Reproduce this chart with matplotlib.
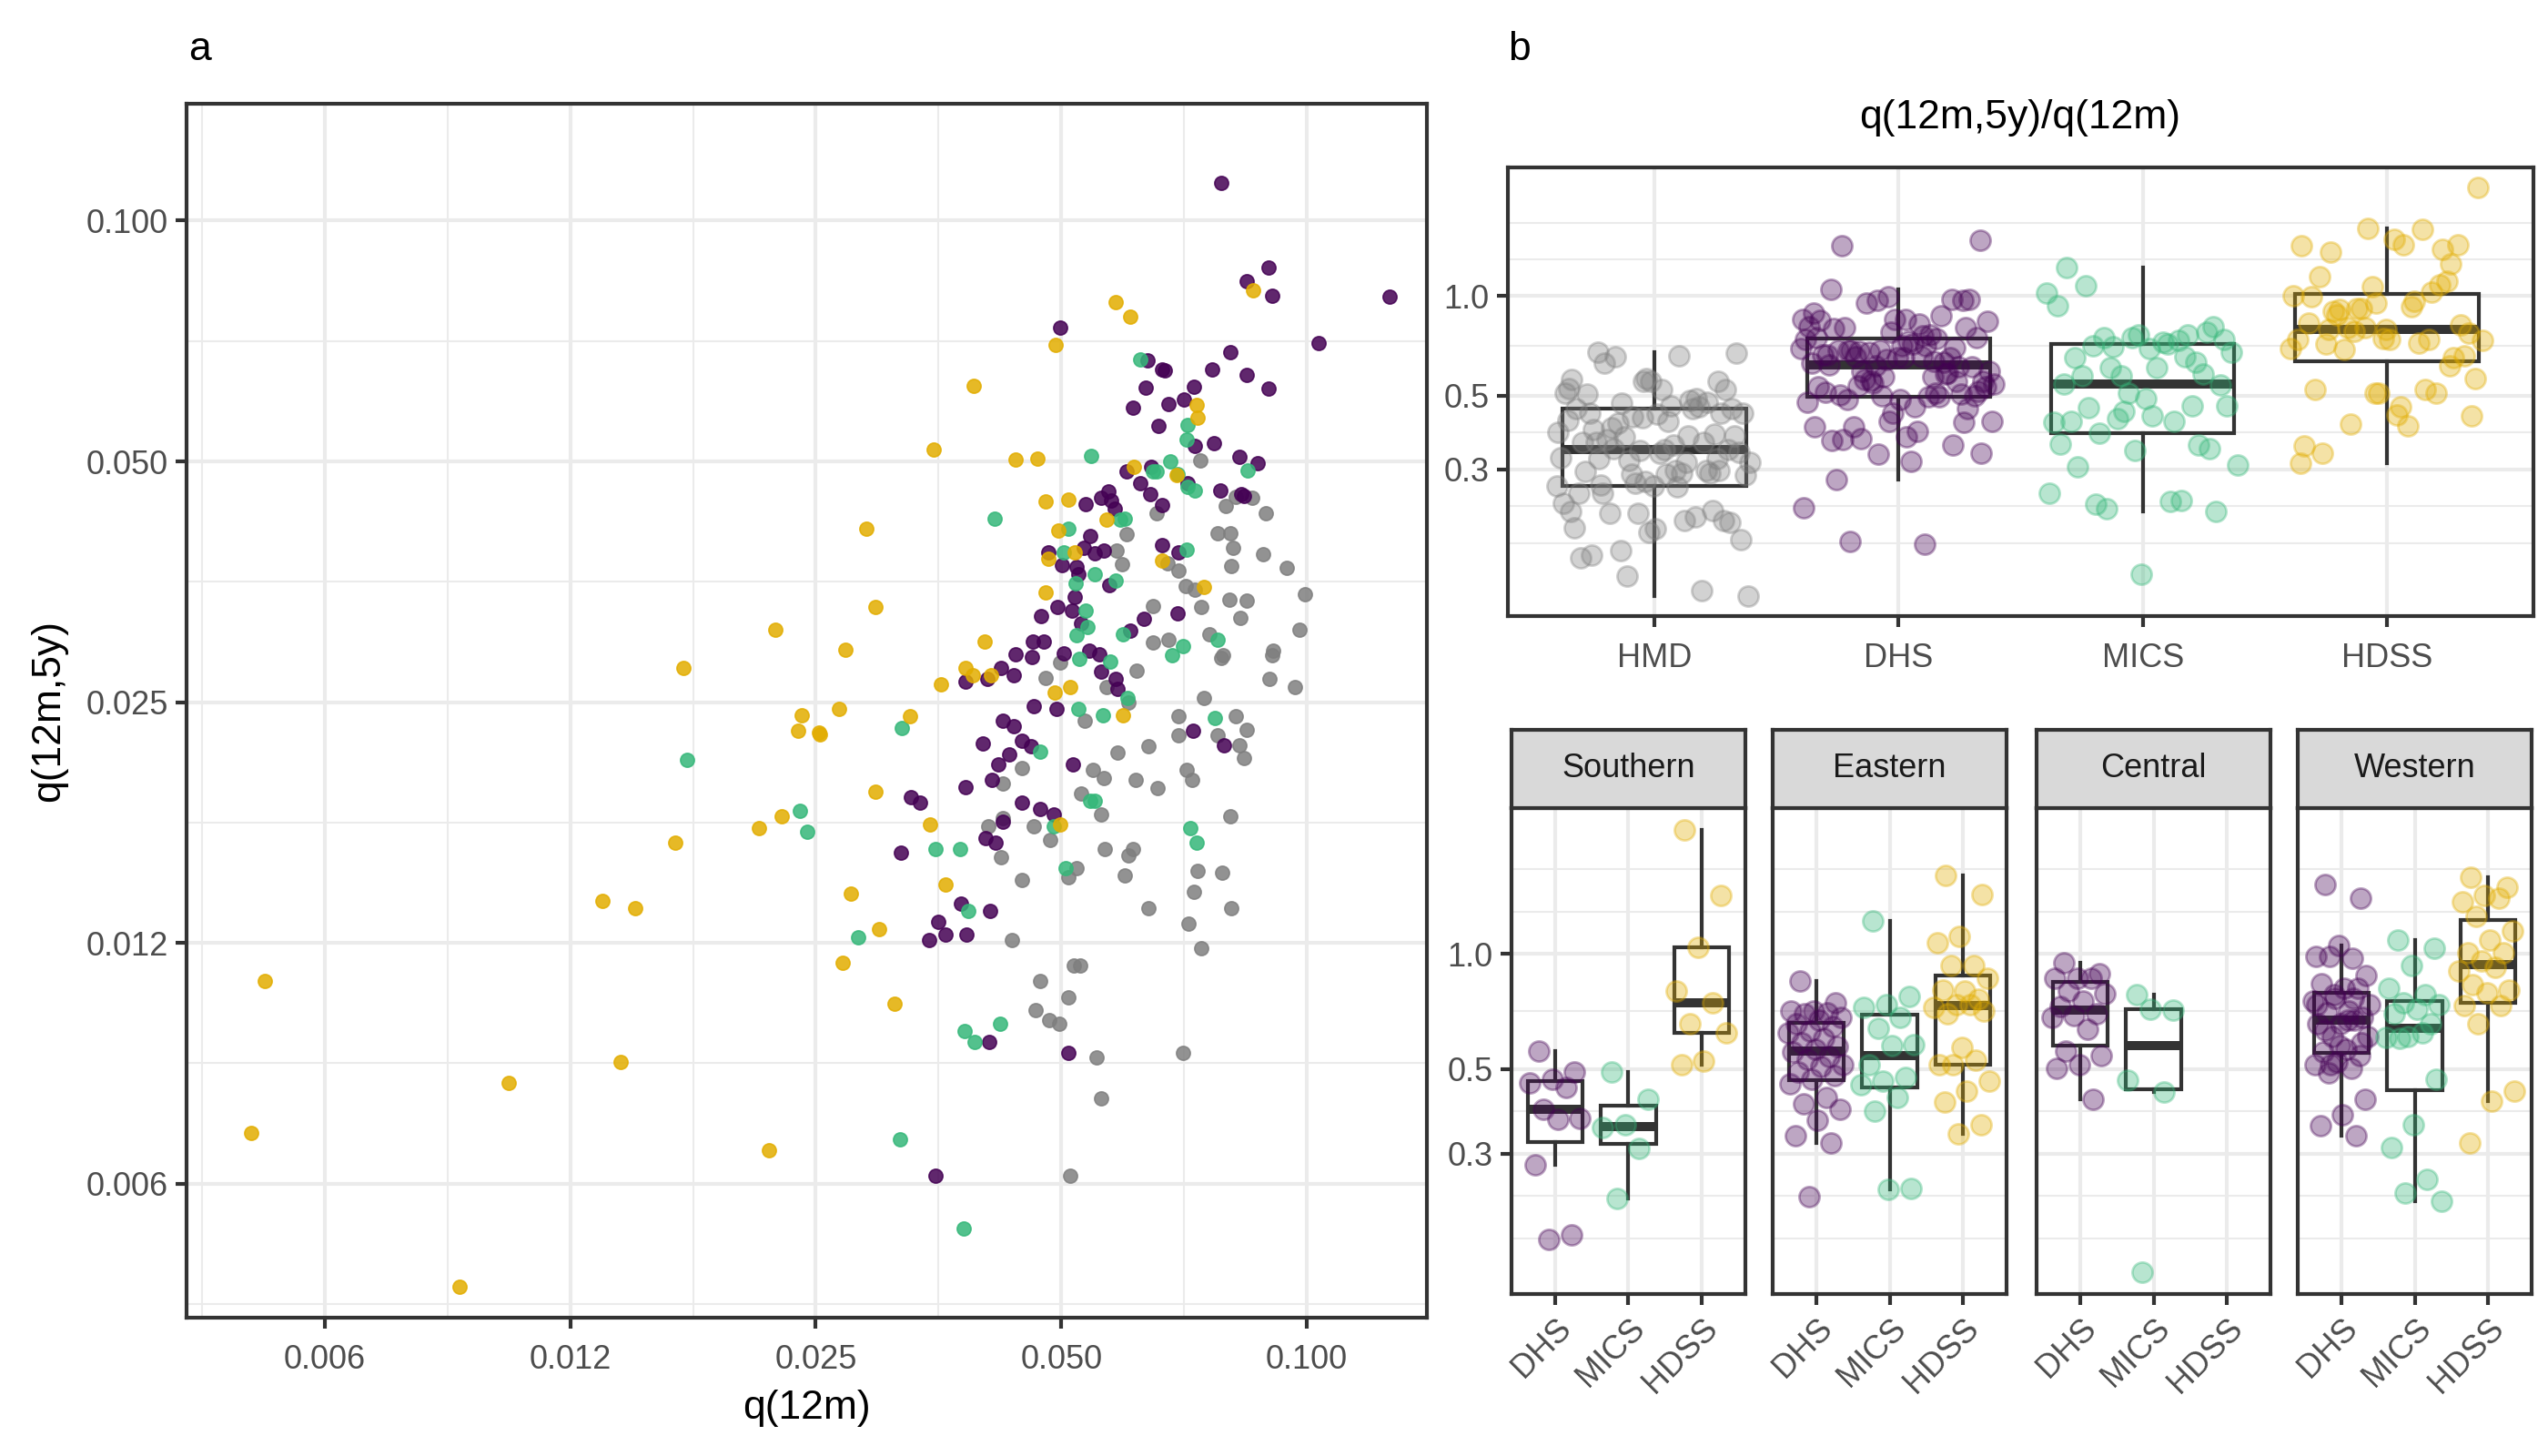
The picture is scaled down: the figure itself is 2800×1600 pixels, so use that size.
import numpy as np
import matplotlib.pyplot as plt
from matplotlib.ticker import FixedLocator, NullFormatter

plt.rcParams['font.family'] = ['Liberation Sans', 'DejaVu Sans']

# ---- panel a: q(12m) vs q(12m,5y) by source ----
hmd_q12m = [0.0741, 0.0795, 0.0818, 0.0857, 0.0891, 0.0655, 0.0602, 0.0777, 0.0805, 0.0813,
            0.0884, 0.0945, 0.0585, 0.0594, 0.0697, 0.0675, 0.0809, 0.0711, 0.0729, 0.0742,
            0.0803, 0.0844, 0.0830, 0.0995, 0.0648, 0.0979, 0.0760, 0.0648, 0.0677, 0.0785,
            0.0790, 0.0909, 0.0906, 0.0899, 0.0967, 0.0619, 0.0498, 0.0478, 0.0569, 0.0605,
            0.0748, 0.0697, 0.0534, 0.0819, 0.0845, 0.0696, 0.0778, 0.0586, 0.0640, 0.0826,
            0.0837, 0.0447, 0.0547, 0.0712,
            0.0424, 0.0529, 0.0559, 0.0407, 0.0424, 0.0463, 0.0485, 0.0422, 0.0447, 0.0510,
            0.0522, 0.0565, 0.0612, 0.0605, 0.0599, 0.0734, 0.0788, 0.0727, 0.0639, 0.0808,
            0.0717, 0.0435, 0.0742, 0.0518, 0.0528, 0.0471, 0.0510, 0.0465, 0.0483, 0.0497,
            0.0553, 0.0706, 0.0559, 0.0513, 0.0564, 0.0617, 0.0656, 0.0724, 0.0805]
hmd_q5y = [0.0502, 0.0440, 0.0452, 0.0450, 0.0431, 0.0431, 0.0406, 0.0407, 0.0407, 0.0390,
           0.0383, 0.0368, 0.0387, 0.0372, 0.0365, 0.0373, 0.0370, 0.0349, 0.0346, 0.0329,
           0.0336, 0.0335, 0.0319, 0.0341, 0.0330, 0.0308, 0.0304, 0.0297, 0.0299, 0.0284,
           0.0286, 0.0290, 0.0286, 0.0267, 0.0261, 0.0274, 0.0280, 0.0268, 0.0261, 0.0250,
           0.0253, 0.0240, 0.0237, 0.0240, 0.0231, 0.0227, 0.0227, 0.0216, 0.0220, 0.0221,
           0.0213, 0.0207, 0.0206, 0.0206,
           0.0198, 0.0192, 0.0181, 0.0175, 0.0179, 0.0175, 0.0168, 0.0160, 0.0150, 0.0151,
           0.0155, 0.0164, 0.0164, 0.0161, 0.0152, 0.0154, 0.0153, 0.0145, 0.0138, 0.0138,
           0.0132, 0.0126, 0.0123, 0.0117, 0.0117, 0.0112, 0.0107, 0.0103, 0.0100, 0.0099,
           0.0090, 0.0091, 0.0080, 0.0064, 0.0201, 0.0200, 0.0195, 0.0200, 0.0180]

dhs_q12m = [0.0785, 0.0898, 0.0844, 0.0907, 0.1265, 0.1034, 0.0498, 0.0805, 0.0638, 0.0665,
            0.0669, 0.0766, 0.0844, 0.0898, 0.0634, 0.0728, 0.0707, 0.0676, 0.0613, 0.0658,
            0.0729, 0.0770, 0.0827, 0.0870, 0.0602, 0.0645, 0.0715, 0.0625, 0.0643, 0.0664,
            0.0784, 0.0831, 0.0837, 0.0536, 0.0559, 0.0571, 0.0575, 0.0581, 0.0542, 0.0664,
            0.0697, 0.0533, 0.0482, 0.0550, 0.0564, 0.0501, 0.0522, 0.0525, 0.0572, 0.0520,
            0.0495, 0.0515, 0.0472, 0.0529, 0.0695, 0.0632, 0.0608, 0.0462, 0.0476, 0.0503,
            0.0541, 0.0556, 0.0439, 0.0460, 0.0422, 0.0437, 0.0382, 0.0406, 0.0559, 0.0583,
            0.0586, 0.0463, 0.0493, 0.0424, 0.0437, 0.0726, 0.0792, 0.0401, 0.0448, 0.0459,
            0.0432, 0.0517, 0.0419,
            0.0411, 0.0382, 0.0327, 0.0336, 0.0447, 0.0471, 0.0489, 0.0424, 0.0404, 0.0415,
            0.0318, 0.0377, 0.0409, 0.0353, 0.0344, 0.0361, 0.0383, 0.0408, 0.0510, 0.0351]
dhs_q5y = [0.1116, 0.0874, 0.0841, 0.0805, 0.0803, 0.0703, 0.0735, 0.0685, 0.0669, 0.0651,
           0.0650, 0.0652, 0.0641, 0.0616, 0.0619, 0.0620, 0.0597, 0.0590, 0.0584, 0.0554,
           0.0523, 0.0527, 0.0507, 0.0497, 0.0486, 0.0492, 0.0469, 0.0469, 0.0455, 0.0441,
           0.0460, 0.0455, 0.0453, 0.0442, 0.0450, 0.0459, 0.0447, 0.0436, 0.0403, 0.0393,
           0.0385, 0.0390, 0.0385, 0.0384, 0.0387, 0.0371, 0.0369, 0.0361, 0.0350, 0.0338,
           0.0329, 0.0325, 0.0320, 0.0314, 0.0323, 0.0318, 0.0307, 0.0298, 0.0298, 0.0288,
           0.0290, 0.0287, 0.0287, 0.0285, 0.0276, 0.0270, 0.0265, 0.0267, 0.0273, 0.0267,
           0.0260, 0.0247, 0.0245, 0.0237, 0.0233, 0.0230, 0.0221, 0.0222, 0.0224, 0.0220,
           0.0215, 0.0209, 0.0209,
           0.0200, 0.0196, 0.0190, 0.0187, 0.0187, 0.0184, 0.0181, 0.0177, 0.0169, 0.0167,
           0.0162, 0.0140, 0.0137, 0.0133, 0.0126, 0.0128, 0.0128, 0.0094, 0.0091, 0.0064]

mics_q12m = [0.0625, 0.0715, 0.0713, 0.0544, 0.0681, 0.0648, 0.0655, 0.0695, 0.0715, 0.0729,
             0.0847, 0.0414, 0.0590, 0.0598, 0.0510, 0.0503, 0.0713, 0.0550, 0.0583, 0.0521,
             0.0536, 0.0539, 0.0522, 0.0595, 0.0706, 0.0684, 0.0777, 0.0526, 0.0574, 0.0603,
             0.0525, 0.0563, 0.0771, 0.0319, 0.0471,
             0.0542, 0.0550, 0.0490, 0.0719, 0.0733, 0.0351, 0.0376, 0.0506, 0.0385, 0.0282,
             0.0381, 0.0392, 0.0421, 0.0317, 0.0380,
             0.0174, 0.0239, 0.0244]
mics_q5y = [0.0670, 0.0555, 0.0533, 0.0508, 0.0500, 0.0486, 0.0486, 0.0482, 0.0465, 0.0460,
            0.0487, 0.0424, 0.0423, 0.0424, 0.0412, 0.0385, 0.0388, 0.0361, 0.0355, 0.0352,
            0.0325, 0.0310, 0.0303, 0.0304, 0.0294, 0.0286, 0.0299, 0.0283, 0.0281, 0.0253,
            0.0245, 0.0241, 0.0239, 0.0232, 0.0217,
            0.0188, 0.0188, 0.0175, 0.0174, 0.0167, 0.0164, 0.0164, 0.0155, 0.0137, 0.0127,
            0.0097, 0.0094, 0.0099, 0.0071, 0.0055,
            0.0212, 0.0183, 0.0172]

hdss_q12m = [0.0583, 0.0608, 0.0859, 0.0492, 0.0391, 0.0733, 0.0735, 0.0349, 0.0440, 0.0467,
             0.0614, 0.0692, 0.0479, 0.0510, 0.0288, 0.0569, 0.0496, 0.0520, 0.0482, 0.0665,
             0.0749, 0.0479, 0.0296, 0.0272, 0.0403, 0.0382, 0.0390, 0.0410, 0.0356, 0.0491,
             0.0513, 0.0267, 0.0326, 0.0595, 0.0253,
             0.0296, 0.0345, 0.0498, 0.0276, 0.0361, 0.0299, 0.0270, 0.0312,
             0.0223, 0.0172, 0.0240, 0.0238, 0.0252, 0.0213, 0.0227, 0.0168, 0.0137, 0.0150,
             0.00528, 0.00508, 0.0105, 0.0144, 0.00915, 0.0219]
hdss_q5y = [0.0791, 0.0759, 0.0819, 0.0699, 0.0621, 0.0588, 0.0567, 0.0517, 0.0503, 0.0504,
            0.0492, 0.0481, 0.0446, 0.0448, 0.0412, 0.0423, 0.0410, 0.0385, 0.0378, 0.0376,
            0.0348, 0.0343, 0.0329, 0.0291, 0.0298, 0.0276, 0.0270, 0.0270, 0.0263, 0.0257,
            0.0261, 0.0245, 0.0240, 0.0241, 0.0228,
            0.0193, 0.0176, 0.0176, 0.0144, 0.0148, 0.0130, 0.0118, 0.0105,
            0.0308, 0.0276, 0.0241, 0.0230, 0.0229, 0.0174, 0.0180, 0.0167, 0.0141, 0.0138,
            0.0112, 0.00724, 0.00835, 0.00888, 0.00465, 0.00688]

sources = ["HMD", "DHS", "MICS", "HDSS"]
q12m = {"HMD": hmd_q12m, "DHS": dhs_q12m, "MICS": mics_q12m, "HDSS": hdss_q12m}
q5y = {"HMD": hmd_q5y, "DHS": dhs_q5y, "MICS": mics_q5y, "HDSS": hdss_q5y}
colours = {"HMD": "#7F7F7F", "DHS": "#440154", "MICS": "#35B779", "HDSS": "#E2AD00"}

q_breaks = [0.00625, 0.0125, 0.025, 0.05, 0.1]
q_labels = ["0.006", "0.012", "0.025", "0.050", "0.100"]

# ---- panel b bottom: ratio by region and survey type ----
survey_types = ["DHS", "MICS", "HDSS"]
regions = ["Southern", "Eastern", "Central", "Western"]

southern_dhs = [0.557, 0.492, 0.469, 0.46, 0.446, 0.392, 0.371, 0.37, 0.281, 0.184, 0.179]
southern_mics = [0.492, 0.417, 0.357, 0.351, 0.309, 0.229]
southern_hdss = [2.11, 1.42, 1.04, 0.80, 0.745, 0.657, 0.623, 0.524, 0.512]
eastern_dhs = [0.85, 0.745, 0.71, 0.71, 0.70, 0.697, 0.683, 0.67, 0.657, 0.645, 0.63, 0.62,
               0.60, 0.585, 0.572, 0.563, 0.553, 0.54, 0.53, 0.512, 0.506, 0.492, 0.48, 0.47,
               0.457, 0.421, 0.405, 0.392, 0.368, 0.335, 0.32, 0.232]
eastern_mics = [1.22, 0.775, 0.738, 0.724, 0.683, 0.639, 0.58, 0.576, 0.512, 0.474, 0.464,
                0.455, 0.421, 0.388, 0.243, 0.242]
eastern_hdss = [1.61, 1.43, 1.11, 1.07, 0.935, 0.935, 0.862, 0.798, 0.805, 0.76, 0.738, 0.724,
                0.738, 0.697, 0.71, 0.568, 0.512, 0.526, 0.512, 0.464, 0.438, 0.409, 0.357, 0.338]
central_dhs = [0.949, 0.887, 0.862, 0.862, 0.862, 0.798, 0.785, 0.753, 0.727, 0.699, 0.69,
               0.683, 0.635, 0.557, 0.542, 0.512, 0.502, 0.417]
central_mics = [0.782, 0.713, 0.717, 0.466, 0.436, 0.147]
central_hdss = []
western_dhs = [1.52, 1.40, 1.055, 0.987, 0.977, 0.987, 0.879, 0.813, 0.837, 0.813, 0.767,
               0.753, 0.710, 0.703, 0.683, 0.657, 0.657, 0.67, 0.608, 0.608, 0.563, 0.553,
               0.542, 0.521, 0.512, 0.502, 0.487, 0.417, 0.379, 0.355, 0.335, 0.782, 0.738,
               0.67, 0.632, 0.585, 0.574, 0.738, 0.767, 0.512]
western_mics = [1.087, 1.035, 0.935, 0.813, 0.782, 0.745, 0.738, 0.717, 0.697, 0.657, 0.608,
                0.606, 0.62, 0.60, 0.47, 0.358, 0.311, 0.257, 0.237, 0.225]
western_hdss = [1.585, 1.495, 1.42, 1.37, 1.40, 1.256, 1.151, 1.087, 1.006, 1.006, 0.958,
                0.904, 0.922, 0.832, 0.805, 0.79, 0.731, 0.731, 0.657, 0.438, 0.412, 0.32]

region_ratio = {
    "Southern": [southern_dhs, southern_mics, southern_hdss],
    "Eastern": [eastern_dhs, eastern_mics, eastern_hdss],
    "Central": [central_dhs, central_mics, central_hdss],
    "Western": [western_dhs, western_mics, western_hdss],
}
ratio_breaks = [0.3, 0.5, 1.0]
ratio_labels = ["0.3", "0.5", "1.0"]

W, H = 2800, 1600
DARK = "#333333"
GRID = "#EBEBEB"
TICK_FS = 13.0
TITLE_FS = 16.0


def px_box(l, t, r, b):
    return [l / W, 1 - b / H, (r - l) / W, (b - t) / H]


def minor_breaks(breaks):
    # ggplot-style minor breaks in log space
    lb = np.log(breaks)
    step = lb[1] - lb[0]
    ext = np.r_[lb[0] - step, lb, lb[-1] + step]
    return np.exp(np.r_[ext, (ext[:-1] + ext[1:]) / 2])


def jitter(n, width=0.4):
    return (np.modf(np.arange(n) * 0.618034 + 0.21)[0] - 0.5) * 2 * width


def box_stats(vals):
    lv = np.log(np.asarray(vals))
    q1, med, q3 = np.percentile(lv, [25, 50, 75])
    iqr = q3 - q1
    lo = lv[lv >= q1 - 1.5 * iqr].min()
    hi = lv[lv <= q3 + 1.5 * iqr].max()
    return dict(med=np.exp(med), q1=np.exp(q1), q3=np.exp(q3),
                whislo=np.exp(lo), whishi=np.exp(hi), fliers=[])


def style(ax):
    for s in ax.spines.values():
        s.set_color(DARK)
        s.set_linewidth(1.5)
    ax.tick_params(which="major", length=4.3, width=1.5, color=DARK,
                   labelcolor="#4D4D4D", labelsize=TICK_FS, pad=3)
    ax.tick_params(axis="x", which="major", pad=6)
    ax.tick_params(which="minor", length=0)
    ax.set_axisbelow(True)
    ax.grid(which="major", color=GRID, lw=1.5)
    ax.grid(which="minor", color=GRID, lw=0.75)


def ratio_panel(ax, groups, names, xlim):
    stats, pos = [], []
    for i, vals in enumerate(groups):
        if len(vals) == 0:
            continue
        stats.append(box_stats(vals))
        pos.append(i + 1)
    ax.bxp(stats, positions=pos, widths=0.75, showfliers=False, showcaps=False,
           patch_artist=True, manage_ticks=False,
           boxprops=dict(facecolor="white", edgecolor=DARK, lw=1.5),
           medianprops=dict(color=DARK, lw=3.6, solid_capstyle="butt"),
           whiskerprops=dict(color=DARK, lw=1.5), zorder=2)
    for i, (vals, name) in enumerate(zip(groups, names)):
        if len(vals) == 0:
            continue
        xs = i + 1 + jitter(len(vals))
        ax.scatter(xs, vals, s=64, color=colours[name], alpha=0.35,
                   edgecolors=colours[name], linewidths=1.0, zorder=3)
    ax.set_yscale("log")
    ax.set_xlim(*xlim)
    ax.set_xticks(range(1, len(names) + 1))
    ax.yaxis.set_major_locator(FixedLocator(ratio_breaks))
    ax.yaxis.set_minor_locator(FixedLocator(minor_breaks(ratio_breaks)))
    ax.yaxis.set_minor_formatter(NullFormatter())
    style(ax)
    ax.grid(which="minor", axis="x", visible=False)


fig = plt.figure(figsize=(14, 8), dpi=200)

# panel a
ax_a = fig.add_axes(px_box(205, 114, 1568, 1448))
for src in sources:
    ax_a.scatter(q12m[src], q5y[src], s=30, color=colours[src], alpha=0.85,
                 edgecolors=colours[src], linewidths=0.6, zorder=3)
ax_a.set_xscale("log")
ax_a.set_yscale("log")
ax_a.set_xlim(0.00423, 0.1404)
ax_a.set_ylim(0.00425, 0.1400)
for axis in (ax_a.xaxis, ax_a.yaxis):
    axis.set_major_locator(FixedLocator(q_breaks))
    axis.set_minor_locator(FixedLocator(minor_breaks(q_breaks)))
    axis.set_minor_formatter(NullFormatter())
ax_a.set_xticklabels(q_labels)
ax_a.set_yticklabels(q_labels)
style(ax_a)
fig.text(886 / W, 1 - 1547 / H, "q(12m)", ha="center", va="center", fontsize=TITLE_FS)
fig.text(54 / W, 1 - 781 / H, "q(12m,5y)", ha="center", va="center",
         rotation=90, fontsize=TITLE_FS)

# panel b top: ratio by source
ratios = [np.asarray(q5y[s]) / np.asarray(q12m[s]) for s in sources]
ax_b = fig.add_axes(px_box(1657, 184, 2784, 677))
ratio_panel(ax_b, ratios, sources, (0.4, 4.6))
ax_b.set_xticklabels(sources)
ax_b.set_yticklabels(ratio_labels)
fig.text(2220 / W, 1 - 130 / H, "q(12m,5y)/q(12m)", ha="center", va="center",
         fontsize=TITLE_FS)

# panel b bottom: facets by region
all_vals = np.concatenate([np.asarray(v) for r in regions for v in region_ratio[r] if len(v)])
lmin, lmax = np.log(all_vals.min()), np.log(all_vals.max())
pad = 0.05 * (lmax - lmin)
facet_left = [1661, 1948, 2238, 2525]
for k, reg in enumerate(regions):
    l = facet_left[k]
    ax = fig.add_axes(px_box(l, 888, l + 257, 1422))
    ratio_panel(ax, region_ratio[reg], survey_types, (0.4, 3.6))
    ax.set_ylim(np.exp(lmin - pad), np.exp(lmax + pad))
    ax.tick_params(axis="x", which="major", pad=3)
    ax.set_xticklabels(survey_types, rotation=45, ha="right", va="top",
                       rotation_mode="anchor")
    if k == 0:
        ax.set_yticklabels(ratio_labels)
    else:
        ax.tick_params(axis="y", which="both", left=False, labelleft=False)
    strip = fig.add_axes(px_box(l, 802, l + 257, 888))
    strip.set_facecolor("#D9D9D9")
    strip.set_xticks([])
    strip.set_yticks([])
    for s in strip.spines.values():
        s.set_color(DARK)
        s.set_linewidth(1.5)
    strip.text(0.5, 0.5, reg, ha="center", va="center", fontsize=TICK_FS,
               color="#1A1A1A", transform=strip.transAxes)

fig.text(207 / W, 1 - 54 / H, "a", ha="left", va="center", fontsize=TITLE_FS)
fig.text(1657 / W, 1 - 54 / H, "b", ha="left", va="center", fontsize=TITLE_FS)

fig.savefig("out.png", dpi=200)
